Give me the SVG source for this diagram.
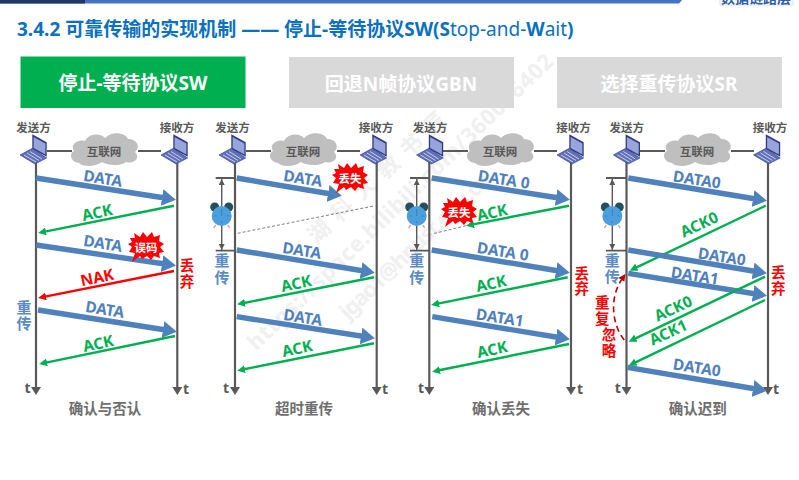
<svg xmlns="http://www.w3.org/2000/svg" width="799" height="480" viewBox="0 0 799 480">
<style>
text{font-family:"Noto Sans","Noto Sans CJK SC",sans-serif;font-weight:700;text-anchor:middle;dominant-baseline:central}
.title{font-size:19px;fill:#0a70c0;text-anchor:start;dominant-baseline:auto}
.light{font-weight:400}
.btn{font-size:19px;fill:#fff}
.who{font-size:11.5px;fill:#595959}
.net{font-size:11.5px;fill:#595959}
.d{font-size:15.5px;fill:#4f81bd}
.a{font-size:15.5px;fill:#00b050}
.n{font-size:15.5px;fill:#f00}
.r{font-size:14.5px;fill:#f00}
.b{font-size:15px;fill:#5b8ac4}
.t{font-size:14px;fill:#595959}
.cap{font-size:14.5px;fill:#6e6e6e}
.bt{font-size:11.5px;fill:#fff}
.wm{font-size:22px;fill:#f0f0f0;text-anchor:start}
.crop{font-size:14px;fill:#2f5ea8}
.axis{stroke:#595959;stroke-width:2.2;fill:none;marker-end:url(#ah)}
.link{stroke:#595959;stroke-width:2;fill:none}
.blue{stroke:#4f81bd;stroke-width:5.4;fill:none;marker-end:url(#bh)}
.green{stroke:#00b050;stroke-width:2.4;fill:none;marker-end:url(#gh)}
.red{stroke:#f00;stroke-width:2.4;fill:none;marker-end:url(#rh)}
.lost{stroke:#7f7f7f;stroke-width:1;stroke-dasharray:3 2;fill:none}
.brk{stroke:#595959;stroke-width:1.8;fill:none}
.tim{stroke:#595959;stroke-width:1.4;fill:none;marker-start:url(#th2);marker-end:url(#th)}
</style>
<defs>
<marker id="ah" markerUnits="userSpaceOnUse" markerWidth="10" markerHeight="10" refX="1" refY="5" orient="auto"><polygon points="0,0 8,5 0,10" fill="#595959"/></marker>
<marker id="bh" markerUnits="userSpaceOnUse" markerWidth="14" markerHeight="17" refX="3" refY="8.5" orient="auto"><polygon points="0,0 14,8.5 0,17" fill="#4f81bd"/></marker>
<marker id="gh" markerUnits="userSpaceOnUse" markerWidth="8" markerHeight="8" refX="1" refY="4" orient="auto"><polygon points="0,0 8,4 0,8" fill="#00b050"/></marker>
<marker id="rh" markerUnits="userSpaceOnUse" markerWidth="8" markerHeight="8" refX="1" refY="4" orient="auto"><polygon points="0,0 8,4 0,8" fill="#f00"/></marker>
<marker id="dh" markerUnits="userSpaceOnUse" markerWidth="7" markerHeight="7" refX="1" refY="3.5" orient="auto"><polygon points="0,0 7,3.5 0,7" fill="#c00000"/></marker>
<marker id="th" markerUnits="userSpaceOnUse" markerWidth="6" markerHeight="6" refX="6" refY="3" orient="auto"><polygon points="0,0 6,3 0,6" fill="#595959"/></marker>
<marker id="th2" markerUnits="userSpaceOnUse" markerWidth="6" markerHeight="6" refX="0" refY="3" orient="auto"><polygon points="6,0 0,3 6,6" fill="#595959"/></marker>
<g id="laptop">
<polygon points="12.3,0.3 26.7,8.3 26.7,22.7 12.3,15" fill="#2f3b80"/>
<polygon points="13.6,3 25.4,9.6 25.4,20.6 13.6,14" fill="#98a5dc"/>
<polygon points="0,21 12.3,14.3 26.7,24 15,30" fill="#5f70b8" stroke="#2f3b80" stroke-width="0.6"/>
<path d="M4,21 L16,28 M7,19 L19,26.5 M10,17.5 L22,25" stroke="#d7dcf2" stroke-width="0.9" fill="none"/>
</g>
<g id="cloud">
<path d="M8,32 C-1,31 -2,22 3,20 C-1,14 6,8 14,10 C18,2 30,2 34,7 C40,0 54,1 57,8 C66,8 70,16 64,21 C70,27 63,33 55,31 C48,36 36,34 31,31 C24,36 12,36 8,32Z" fill="#bfbfbf"/>
</g>
<polygon id="burst" points="-16,-9 -11,-9 -12,-14 -6,-10 -3,-15 1,-10 6,-15 8,-10 14,-12 13,-6 18,-3 14,0 18,5 13,6 14,11 8,9 5,13 1,9 -4,12 -6,9 -14,15 -11,6 -17,5 -14,0 -18,-3 -14,-5" fill="#f00"/>
<g id="clock">
<circle cx="-7" cy="-9" r="4.5" fill="#24505c"/>
<circle cx="7" cy="-9" r="4.5" fill="#24505c"/>
<path d="M-6,9 L-8,12 M6,9 L8,12" stroke="#f0a090" stroke-width="1.4"/>
<circle r="10" fill="#4a9fdc"/>
<path d="M0,-7 V0 M-7,0 H-5 M5,0 H7 M0,5 V7" stroke="#3a80b4" stroke-width="1"/>
</g>
</defs>

<rect width="799" height="480" fill="#fff"/>

<g id="watermark">
<text class="wm" transform="translate(250,345) rotate(-44)" textLength="415">https://space.bilibili.com/360006402</text>
<text class="wm" transform="translate(310,238) rotate(-43)" textLength="180">湖科大教书匠</text>
<text class="wm" transform="translate(342,314) rotate(-44)" textLength="200">jgao1@hnust.edu.cn</text>
</g>

<g id="header">
<path d="M0,0H682L679,3.5H0Z" fill="#4472c4"/>
<rect x="0" y="0" width="85" height="3.5" fill="#1f3864"/>
<rect x="720" y="-1" width="73" height="6" fill="#fff" stroke="#d9d9d9" stroke-width="0.8"/>
<text class="crop" x="756" y="-3">数据链路层</text>
<text class="title" x="17" y="35.5">3.4.2 可靠传输的实现机制 —— 停止-等待协议SW(S<tspan class="light">top-and-</tspan>W<tspan class="light">ait</tspan>)</text>
</g>

<g id="btn-sw"><rect x="20.5" y="56.5" width="225" height="51.5" fill="#00b050"/><text class="btn" x="133" y="83">停止-等待协议SW</text></g>
<g id="btn-gbn"><rect x="289" y="57" width="225" height="51" fill="#d9d9d9"/><text class="btn" x="401" y="84">回退N帧协议GBN</text></g>
<g id="btn-sr"><rect x="557" y="57" width="225" height="51" fill="#d9d9d9"/><text class="btn" x="669" y="84">选择重传协议SR</text></g>

<g id="connectors">
<path class="link" d="M47,151H72M138,151H161"/>
<path class="link" d="M246,151H271M337,151H360"/>
<path class="link" d="M443,151H468M534,151H557"/>
<path class="link" d="M640,151H665M731,151H754"/>
<path class="axis" d="M36,160V388"/><path class="axis" d="M177.3,160V388"/>
<path class="axis" d="M235,160V388"/><path class="axis" d="M376.7,160V388"/>
<path class="axis" d="M429.3,160V388"/><path class="axis" d="M571,160V388"/>
<path class="axis" d="M626.5,160V388"/><path class="axis" d="M768,160V388"/>

<path class="blue" d="M36,178L165,198"/>
<path class="green" d="M174,205.7L45,231.6"/>
<path class="blue" d="M36,245L165,264"/>
<path class="red" d="M174,271L45,296.6"/>
<path class="blue" d="M38,310L166,330"/>
<path class="green" d="M175,336L46,362.6"/>

<path class="brk" d="M215.7,178H235M215.7,250.7H235"/>
<path class="tim" d="M221.7,179V250"/>
<path class="blue" d="M236.7,178L331,194"/>
<path class="lost" d="M237.7,233.3L375,205.7"/>
<path class="blue" d="M236.7,250L364,271"/>
<path class="green" d="M374,277.3L244,303"/>
<path class="blue" d="M236.7,316.7L364,336.5"/>
<path class="green" d="M374,343.3L244,369.3"/>

<path class="brk" d="M410,178H429M410,250.7H429"/>
<path class="tim" d="M416.7,179V250"/>
<path class="blue" d="M431.7,178L559,198"/>
<path class="lost" d="M466,225.7L431.7,234"/>
<path class="green" d="M569,205.7L473,224.4"/>
<path class="blue" d="M431.7,250L559,271"/>
<path class="green" d="M567.7,277.3L438,303.6"/>
<path class="blue" d="M432.3,316.7L559,337.5"/>
<path class="green" d="M569,344L439,370.3"/>

<path class="brk" d="M606,178H626M606,250.7H626"/>
<path class="tim" d="M612.3,179V250"/>
<path class="blue" d="M628.3,178L756,199"/>
<path class="green" d="M765.7,205.7L636,267.7"/>
<path class="blue" d="M628.3,250L756,271.5"/>
<path class="blue" d="M628.3,273.3L756,294"/>
<path class="green" d="M765,276.7L635,338.7"/>
<path class="green" d="M765,300L635,362.7"/>
<path class="blue" d="M627.3,367.3L756,389"/>
<path d="M624.3,340C612,325 609,298 622,279" fill="none" stroke="#c00000" stroke-width="1.6" stroke-dasharray="6 4" marker-end="url(#dh)"/>
</g>

<g id="panel-sw">
<text class="who" x="33.5" y="127">发送方</text><text class="who" x="177" y="127">接收方</text>
<use href="#laptop" x="20" y="134"/><use href="#laptop" x="161" y="134"/>
<use href="#cloud" x="71" y="131"/><text class="net" x="104" y="151">互联网</text>
<text class="d" transform="translate(103,178) rotate(9)">DATA</text>
<text class="a" transform="translate(97,212) rotate(-12)">ACK</text>
<text class="d" transform="translate(103,243) rotate(9)">DATA</text>
<use href="#burst" x="146" y="247"/><text class="bt" x="146" y="247">误码</text>
<text class="n" transform="translate(97,277) rotate(-12)">NAK</text>
<text class="r" x="187" y="265">丢<tspan x="187" dy="16">弃</tspan></text>
<text class="d" transform="translate(105,309) rotate(9)">DATA</text>
<text class="a" transform="translate(98,343) rotate(-12)">ACK</text>
<text class="b" x="24" y="307">重<tspan x="24" dy="16">传</tspan></text>
<text class="t" x="27.5" y="387">t</text><text class="t" x="186" y="388">t</text>
<text class="cap" x="105" y="408">确认与否认</text>
</g>

<g id="panel-timeout">
<text class="who" x="232.5" y="127">发送方</text><text class="who" x="376" y="127">接收方</text>
<use href="#laptop" x="219" y="134"/><use href="#laptop" x="360" y="134"/>
<use href="#cloud" x="270" y="131"/><text class="net" x="303" y="151">互联网</text>
<text class="d" transform="translate(303,178) rotate(9)">DATA</text>
<use href="#burst" x="350" y="178"/><text class="bt" x="350" y="178">丢失</text>
<use href="#clock" x="221.7" y="216"/>
<text class="d" transform="translate(302,250) rotate(9)">DATA</text>
<text class="a" transform="translate(296,283) rotate(-12)">ACK</text>
<text class="d" transform="translate(303,317) rotate(9)">DATA</text>
<text class="a" transform="translate(297,348) rotate(-12)">ACK</text>
<text class="b" x="222" y="260">重<tspan x="222" dy="17">传</tspan></text>
<text class="t" x="226" y="387">t</text><text class="t" x="385" y="388">t</text>
<text class="cap" x="304" y="408">超时重传</text>
</g>

<g id="panel-acklost">
<text class="who" x="430" y="127">发送方</text><text class="who" x="573.5" y="127">接收方</text>
<use href="#laptop" x="416.5" y="134"/><use href="#laptop" x="557" y="134"/>
<use href="#cloud" x="467" y="131"/><text class="net" x="500" y="151">互联网</text>
<text class="d" transform="translate(504,179) rotate(9)">DATA 0</text>
<use href="#clock" x="416.7" y="216"/>
<use href="#burst" x="459" y="212"/><text class="bt" x="459" y="212">丢失</text>
<text class="a" transform="translate(492,212) rotate(-12)">ACK</text>
<text class="d" transform="translate(503,251) rotate(9)">DATA 0</text>
<text class="a" transform="translate(491,283) rotate(-12)">ACK</text>
<text class="d" transform="translate(500,317) rotate(9)">DATA1</text>
<text class="a" transform="translate(492,349) rotate(-12)">ACK</text>
<text class="r" x="581.7" y="273">丢<tspan x="581.7" dy="15">弃</tspan></text>
<text class="b" x="416.7" y="260">重<tspan x="416.7" dy="17">传</tspan></text>
<text class="t" x="421" y="387">t</text><text class="t" x="580" y="388">t</text>
<text class="cap" x="501" y="408">确认丢失</text>
</g>

<g id="panel-acklate">
<text class="who" x="626.7" y="127">发送方</text><text class="who" x="770" y="127">接收方</text>
<use href="#laptop" x="613.3" y="134"/><use href="#laptop" x="753.5" y="134"/>
<use href="#cloud" x="664" y="131"/><text class="net" x="697" y="151">互联网</text>
<text class="d" transform="translate(697,179) rotate(9)">DATA0</text>
<use href="#clock" x="612.3" y="216"/>
<text class="a" transform="translate(699,224) rotate(-25)">ACK0</text>
<text class="d" transform="translate(722,256) rotate(9)">DATA0</text>
<text class="d" transform="translate(695,275) rotate(9)">DATA1</text>
<text class="a" transform="translate(673,308) rotate(-25)">ACK0</text>
<text class="a" transform="translate(668,332) rotate(-25)">ACK1</text>
<text class="d" transform="translate(697,367) rotate(9)">DATA0</text>
<text class="r" x="778.3" y="272">丢<tspan x="778.3" dy="16">弃</tspan></text>
<text class="b" x="612.3" y="260">重<tspan x="612.3" dy="16">传</tspan></text>
<text class="r" x="602.3" y="302">重<tspan x="602.3" dy="16">复</tspan></text>
<text class="r" x="609" y="334">忽<tspan x="609" dy="16">略</tspan></text>
<text class="t" x="617.7" y="387">t</text><text class="t" x="776" y="388">t</text>
<text class="cap" x="697.7" y="408">确认迟到</text>
</g>
</svg>
